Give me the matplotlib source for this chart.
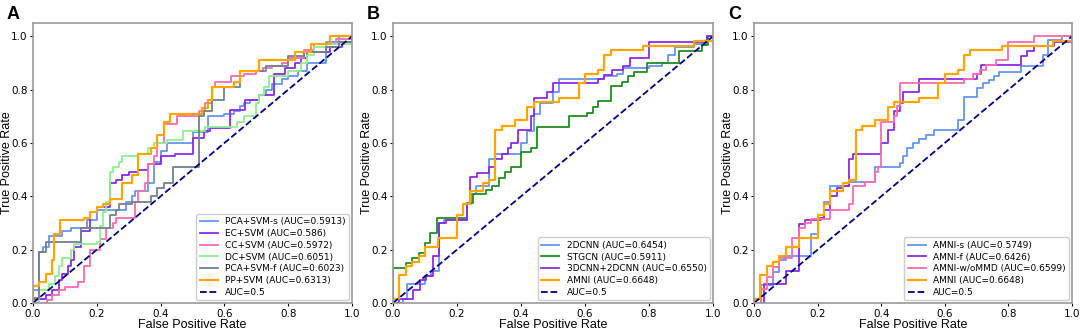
import matplotlib
matplotlib.use("Agg")
import matplotlib.pyplot as plt

# ---- Panel A: baseline SVM models ----
a_pca_s_fpr = [0, 0.02, 0.03, 0.05, 0.09, 0.12, 0.17, 0.2, 0.29, 0.31, 0.32, 0.36, 0.38, 0.40, 0.42, 0.50, 0.55, 0.60, 0.63, 0.65, 0.66, 0.68, 0.71, 0.73, 0.75, 0.78, 0.80, 0.83, 0.86, 0.92, 0.96, 1.0]
a_pca_s_tpr = [0.05, 0.19, 0.21, 0.25, 0.27, 0.28, 0.31, 0.35, 0.38, 0.40, 0.42, 0.45, 0.53, 0.57, 0.60, 0.64, 0.70, 0.71, 0.72, 0.74, 0.75, 0.76, 0.78, 0.80, 0.82, 0.84, 0.85, 0.87, 0.90, 0.98, 1.0, 1.0]
a_ec_fpr = [0, 0, 0.04, 0.06, 0.08, 0.09, 0.11, 0.12, 0.13, 0.15, 0.18, 0.20, 0.24, 0.26, 0.28, 0.30, 0.33, 0.36, 0.40, 0.445, 0.50, 0.535, 0.555, 0.617, 0.665, 0.71, 0.755, 0.79, 0.82, 0.84, 0.86, 0.93, 0.97, 1.0]
a_ec_tpr = [0, 0.015, 0.03, 0.05, 0.085, 0.11, 0.14, 0.16, 0.21, 0.27, 0.34, 0.36, 0.45, 0.46, 0.48, 0.49, 0.50, 0.52, 0.55, 0.56, 0.62, 0.645, 0.655, 0.725, 0.76, 0.78, 0.86, 0.88, 0.90, 0.92, 0.94, 0.96, 0.98, 1.0]
a_cc_fpr = [0, 0.045, 0.06, 0.08, 0.10, 0.14, 0.16, 0.18, 0.21, 0.23, 0.25, 0.26, 0.32, 0.33, 0.35, 0.36, 0.38, 0.39, 0.41, 0.45, 0.52, 0.54, 0.56, 0.57, 0.62, 0.66, 0.70, 0.72, 0.75, 0.78, 0.80, 0.85, 0.88, 0.95, 1.0]
a_cc_tpr = [0, 0.01, 0.03, 0.05, 0.06, 0.08, 0.14, 0.20, 0.24, 0.28, 0.30, 0.32, 0.38, 0.42, 0.45, 0.52, 0.55, 0.60, 0.67, 0.70, 0.72, 0.75, 0.81, 0.83, 0.85, 0.86, 0.87, 0.88, 0.89, 0.90, 0.92, 0.95, 0.97, 0.99, 1.0]
a_dc_fpr = [0, 0.02, 0.05, 0.07, 0.08, 0.09, 0.12, 0.13, 0.20, 0.21, 0.22, 0.23, 0.24, 0.25, 0.27, 0.28, 0.33, 0.36, 0.38, 0.42, 0.47, 0.54, 0.64, 0.66, 0.70, 0.71, 0.725, 0.74, 0.80, 0.84, 0.86, 0.88, 0.92, 1.0]
a_dc_tpr = [0, 0.05, 0.07, 0.10, 0.14, 0.17, 0.20, 0.22, 0.23, 0.29, 0.34, 0.38, 0.49, 0.51, 0.53, 0.55, 0.56, 0.58, 0.60, 0.61, 0.645, 0.66, 0.68, 0.70, 0.75, 0.78, 0.81, 0.85, 0.87, 0.90, 0.93, 0.96, 0.97, 1.0]
a_pca_f_fpr = [0, 0, 0.02, 0.04, 0.15, 0.24, 0.26, 0.27, 0.31, 0.37, 0.39, 0.41, 0.44, 0.52, 0.535, 0.56, 0.60, 0.65, 0.73, 0.80, 0.85, 0.92, 0.96, 1.0]
a_pca_f_tpr = [0, 0.02, 0.19, 0.23, 0.28, 0.33, 0.35, 0.37, 0.38, 0.40, 0.43, 0.45, 0.51, 0.70, 0.72, 0.76, 0.81, 0.87, 0.89, 0.925, 0.94, 0.96, 0.98, 1.0]
a_pp_fpr = [0, 0, 0.02, 0.04, 0.06, 0.065, 0.085, 0.16, 0.18, 0.20, 0.22, 0.24, 0.28, 0.31, 0.33, 0.37, 0.39, 0.41, 0.43, 0.53, 0.55, 0.56, 0.63, 0.65, 0.71, 0.82, 0.87, 0.93, 1.0]
a_pp_tpr = [0, 0.065, 0.08, 0.11, 0.16, 0.26, 0.31, 0.32, 0.34, 0.36, 0.37, 0.39, 0.45, 0.48, 0.56, 0.58, 0.63, 0.68, 0.71, 0.73, 0.76, 0.81, 0.83, 0.87, 0.91, 0.94, 0.97, 1.0, 1.0]

# ---- Panel B: deep models ----
b_2d_fpr = [0, 0.03, 0.044, 0.10, 0.12, 0.145, 0.16, 0.23, 0.245, 0.26, 0.30, 0.32, 0.40, 0.42, 0.44, 0.46, 0.50, 0.52, 0.66, 0.70, 0.72, 0.80, 0.84, 0.86, 0.88, 0.94, 0.98, 1.0]
b_2d_tpr = [0, 0.016, 0.07, 0.10, 0.12, 0.30, 0.31, 0.37, 0.41, 0.44, 0.54, 0.56, 0.60, 0.645, 0.71, 0.75, 0.79, 0.84, 0.85, 0.86, 0.88, 0.89, 0.90, 0.93, 0.96, 0.97, 1.0, 1.0]
b_stgcn_fpr = [0, 0, 0.04, 0.06, 0.08, 0.10, 0.117, 0.136, 0.23, 0.25, 0.29, 0.31, 0.33, 0.35, 0.37, 0.40, 0.43, 0.45, 0.55, 0.605, 0.624, 0.642, 0.68, 0.715, 0.733, 0.752, 0.793, 0.893, 0.966, 0.985, 1.0]
b_stgcn_tpr = [0, 0.13, 0.15, 0.167, 0.188, 0.225, 0.263, 0.32, 0.376, 0.41, 0.425, 0.44, 0.47, 0.49, 0.51, 0.565, 0.58, 0.66, 0.70, 0.714, 0.734, 0.756, 0.812, 0.83, 0.85, 0.868, 0.90, 0.944, 0.969, 1.0, 1.0]
b_3d_fpr = [0, 0.02, 0.063, 0.083, 0.104, 0.125, 0.145, 0.165, 0.23, 0.24, 0.262, 0.30, 0.32, 0.34, 0.36, 0.37, 0.39, 0.43, 0.44, 0.48, 0.50, 0.64, 0.66, 0.685, 0.72, 0.74, 0.80, 0.98, 1.0]
b_3d_tpr = [0, 0.016, 0.05, 0.085, 0.10, 0.175, 0.30, 0.313, 0.37, 0.474, 0.489, 0.509, 0.54, 0.56, 0.58, 0.60, 0.65, 0.70, 0.77, 0.79, 0.825, 0.84, 0.856, 0.875, 0.89, 0.918, 0.98, 1.0, 1.0]

# AMNI curve (same in B and C)
amni_fpr = [0, 0, 0.02, 0.04, 0.06, 0.08, 0.10, 0.14, 0.20, 0.22, 0.24, 0.28, 0.30, 0.32, 0.34, 0.38, 0.42, 0.44, 0.52, 0.58, 0.60, 0.64, 0.66, 0.68, 0.78, 0.94, 1.0]
amni_tpr = [0, 0.016, 0.105, 0.14, 0.155, 0.175, 0.21, 0.245, 0.33, 0.37, 0.42, 0.45, 0.46, 0.65, 0.665, 0.685, 0.735, 0.752, 0.77, 0.825, 0.86, 0.875, 0.93, 0.947, 0.965, 0.982, 1.0]

# ---- Panel C: ablations ----
c_s_fpr = [0, 0.023, 0.06, 0.08, 0.10, 0.18, 0.20, 0.22, 0.24, 0.30, 0.38, 0.46, 0.47, 0.48, 0.50, 0.52, 0.54, 0.565, 0.64, 0.66, 0.70, 0.72, 0.74, 0.755, 0.77, 0.84, 0.91, 0.925, 0.97, 1.0]
c_s_tpr = [0, 0.066, 0.117, 0.16, 0.175, 0.26, 0.32, 0.38, 0.44, 0.455, 0.51, 0.525, 0.55, 0.58, 0.60, 0.615, 0.63, 0.65, 0.685, 0.774, 0.806, 0.825, 0.837, 0.85, 0.865, 0.89, 0.93, 0.985, 1.0, 1.0]
c_f_fpr = [0, 0.031, 0.10, 0.14, 0.16, 0.21, 0.22, 0.24, 0.26, 0.28, 0.30, 0.31, 0.40, 0.42, 0.44, 0.46, 0.47, 0.52, 0.70, 0.715, 0.84, 0.86, 0.88, 0.944, 1.0]
c_f_tpr = [0, 0.07, 0.12, 0.298, 0.31, 0.32, 0.35, 0.40, 0.43, 0.44, 0.54, 0.56, 0.60, 0.65, 0.72, 0.75, 0.79, 0.84, 0.86, 0.893, 0.925, 0.944, 0.965, 0.98, 1.0]
c_wo_fpr = [0, 0.021, 0.04, 0.06, 0.08, 0.12, 0.14, 0.16, 0.18, 0.24, 0.30, 0.31, 0.35, 0.38, 0.39, 0.40, 0.44, 0.45, 0.46, 0.66, 0.69, 0.71, 0.73, 0.76, 0.80, 0.88, 1.0]
c_wo_tpr = [0, 0.054, 0.098, 0.135, 0.167, 0.245, 0.28, 0.30, 0.315, 0.35, 0.37, 0.44, 0.455, 0.49, 0.51, 0.68, 0.70, 0.74, 0.825, 0.84, 0.86, 0.875, 0.893, 0.91, 0.977, 1.0, 1.0]

panels = [
    ("A", [
        (a_pca_s_fpr, a_pca_s_tpr, "PCA+SVM-s (AUC=0.5913)", "cornflowerblue", 1.3),
        (a_ec_fpr, a_ec_tpr, "EC+SVM (AUC=0.586)", "blueviolet", 1.3),
        (a_cc_fpr, a_cc_tpr, "CC+SVM (AUC=0.5972)", "hotpink", 1.3),
        (a_dc_fpr, a_dc_tpr, "DC+SVM (AUC=0.6051)", "lightgreen", 1.3),
        (a_pca_f_fpr, a_pca_f_tpr, "PCA+SVM-f (AUC=0.6023)", "slategray", 1.3),
        (a_pp_fpr, a_pp_tpr, "PP+SVM (AUC=0.6313)", "orange", 1.6),
    ]),
    ("B", [
        (b_2d_fpr, b_2d_tpr, "2DCNN (AUC=0.6454)", "cornflowerblue", 1.3),
        (b_stgcn_fpr, b_stgcn_tpr, "STGCN (AUC=0.5911)", "forestgreen", 1.3),
        (b_3d_fpr, b_3d_tpr, "3DCNN+2DCNN (AUC=0.6550)", "blueviolet", 1.3),
        (amni_fpr, amni_tpr, "AMNI (AUC=0.6648)", "orange", 1.6),
    ]),
    ("C", [
        (c_s_fpr, c_s_tpr, "AMNI-s (AUC=0.5749)", "cornflowerblue", 1.3),
        (c_f_fpr, c_f_tpr, "AMNI-f (AUC=0.6426)", "blueviolet", 1.3),
        (c_wo_fpr, c_wo_tpr, "AMNI-w/oMMD (AUC=0.6599)", "hotpink", 1.3),
        (amni_fpr, amni_tpr, "AMNI (AUC=0.6648)", "orange", 1.6),
    ]),
]

lefts = [33, 393, 754]
widths = [319, 320, 318]
label_font = ["Liberation Sans", "DejaVu Sans"]

fig = plt.figure(figsize=(10.84, 3.32), dpi=100)
for (letter, curves), left, w in zip(panels, lefts, widths):
    ax = fig.add_axes([left / 1084, 29 / 332, w / 1084, 280 / 332])
    for fpr, tpr, lab, col, lw in curves:
        ax.plot(fpr, tpr, drawstyle="steps-post", color=col, lw=lw, label=lab)
    ax.plot([0, 1], [0, 1], color="navy", lw=1.3, ls="--", label="AUC=0.5")
    ax.set_xlim(0, 1)
    ax.set_ylim(0, 1.05)
    ax.set_xticks([0, 0.2, 0.4, 0.6, 0.8, 1.0])
    ax.set_yticks([0, 0.2, 0.4, 0.6, 0.8, 1.0])
    ax.tick_params(labelsize=7.5, length=2.5, width=0.8, pad=1.5)
    for sp in ax.spines.values():
        sp.set_color("#999999")
        sp.set_linewidth(1.2)
    ax.set_xlabel("False Positive Rate", fontsize=9, family=label_font, labelpad=0)
    ax.set_ylabel("True Positive Rate", fontsize=9, family=label_font)
    ax.yaxis.set_label_coords(-20 / w, 0.5)
    ax.legend(loc="lower right", fontsize=6.5, labelspacing=0.3, borderaxespad=0.3,
              handlelength=2.0, framealpha=1, edgecolor="#cccccc")
    fig.text((left - 26) / 1084, 1 - 6 / 332, letter, ha="left", va="top",
             fontsize=13, fontweight="bold", family=["Liberation Sans", "DejaVu Sans"])

fig.savefig("out.png", dpi=100)
